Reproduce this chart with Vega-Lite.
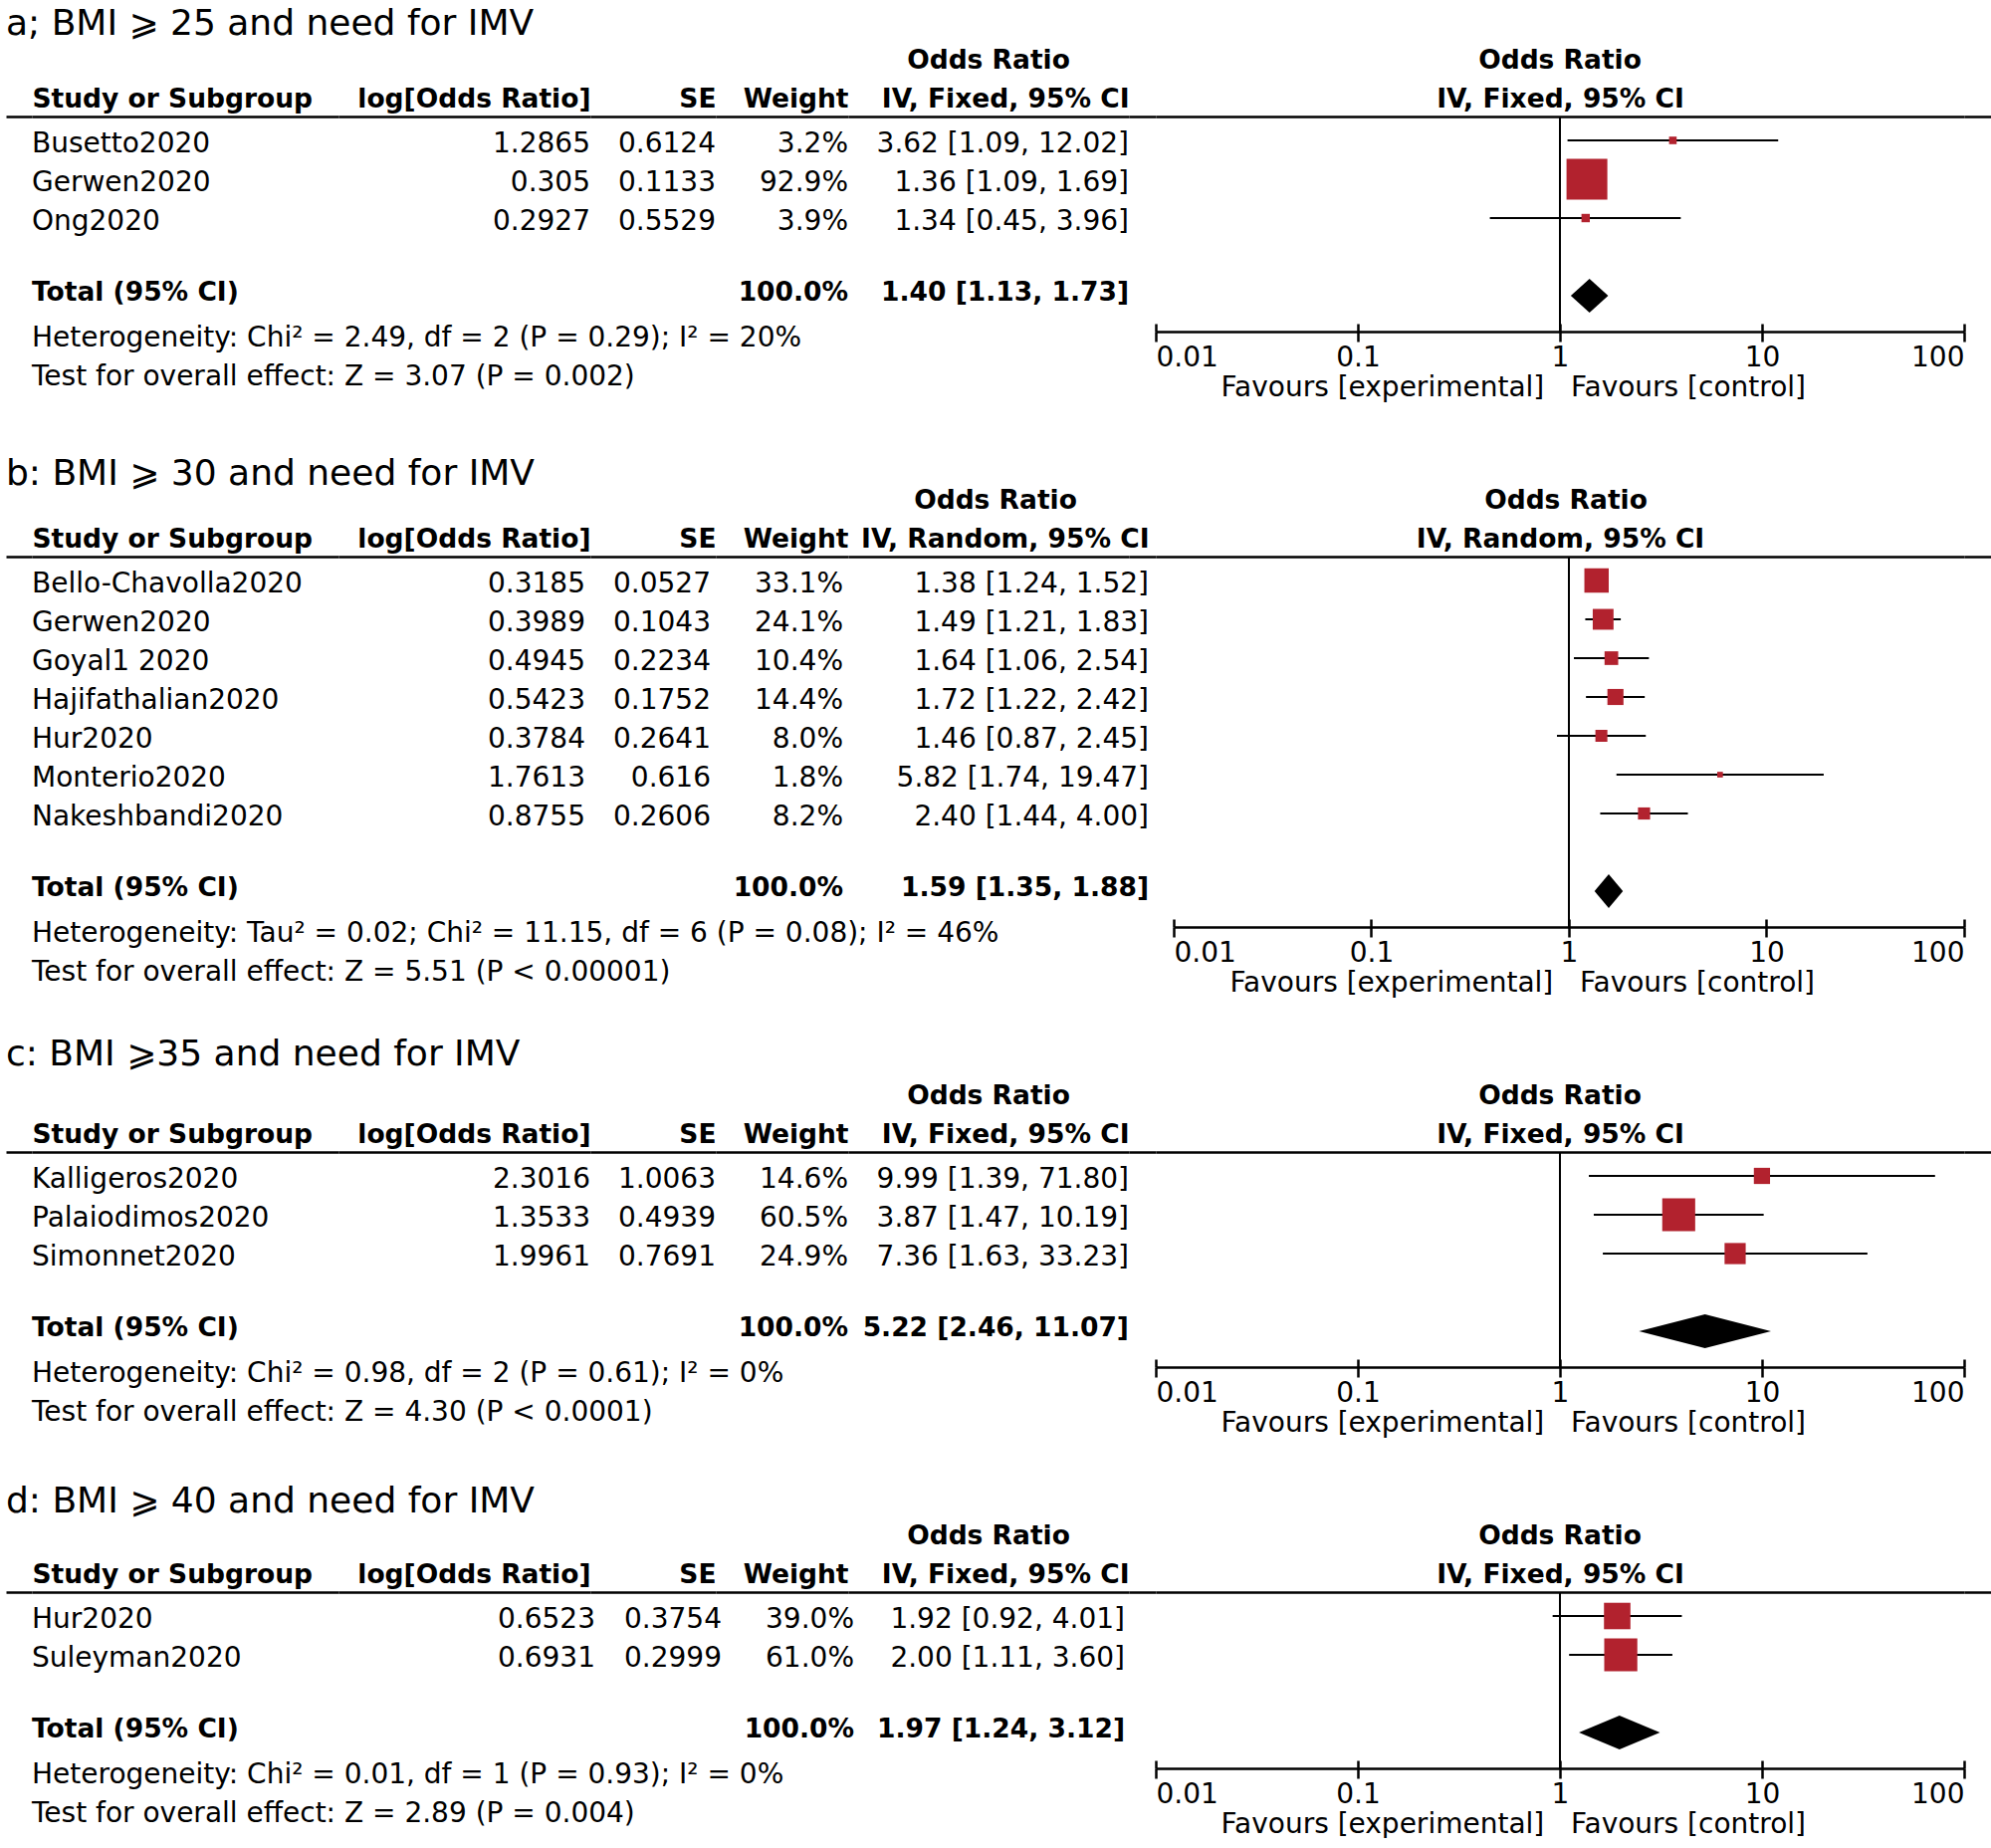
{
"$schema": "https://vega.github.io/schema/vega-lite/v6.json",
"background": "white",
"padding": {"left": 6, "top": 6, "right": 0, "bottom": 0},
"bounds": "flush",
"columns": 9,
"spacing": {"row": 160, "column": 0},
"align": "each",
"datasets": {
"a": [
{"kind":"study","study":"Busetto2020","logor":1.2865,"se":0.6124,"w":0.032,"or":3.62,"lo":1.09,"hi":12.02,"ci":"3.62 [1.09, 12.02]"},
{"kind":"study","study":"Gerwen2020","logor":0.305,"se":0.1133,"w":0.929,"or":1.36,"lo":1.09,"hi":1.69,"ci":"1.36 [1.09, 1.69]"},
{"kind":"study","study":"Ong2020","logor":0.2927,"se":0.5529,"w":0.039,"or":1.34,"lo":0.45,"hi":3.96,"ci":"1.34 [0.45, 3.96]"},
{"kind":"total","study":"Total (95% CI)","w":1,"or":1.40,"lo":1.13,"hi":1.73,"ci":"1.40 [1.13, 1.73]"},
{"kind":"note","study":"Heterogeneity: Chi² = 2.49, df = 2 (P = 0.29); I² = 20%"},
{"kind":"note","study":"Test for overall effect: Z = 3.07 (P = 0.002)"}
],
"b": [
{"kind":"study","study":"Bello-Chavolla2020","logor":0.3185,"se":0.0527,"w":0.331,"or":1.38,"lo":1.24,"hi":1.52,"ci":"1.38 [1.24, 1.52]"},
{"kind":"study","study":"Gerwen2020","logor":0.3989,"se":0.1043,"w":0.241,"or":1.49,"lo":1.21,"hi":1.83,"ci":"1.49 [1.21, 1.83]"},
{"kind":"study","study":"Goyal1 2020","logor":0.4945,"se":0.2234,"w":0.104,"or":1.64,"lo":1.06,"hi":2.54,"ci":"1.64 [1.06, 2.54]"},
{"kind":"study","study":"Hajifathalian2020","logor":0.5423,"se":0.1752,"w":0.144,"or":1.72,"lo":1.22,"hi":2.42,"ci":"1.72 [1.22, 2.42]"},
{"kind":"study","study":"Hur2020","logor":0.3784,"se":0.2641,"w":0.080,"or":1.46,"lo":0.87,"hi":2.45,"ci":"1.46 [0.87, 2.45]"},
{"kind":"study","study":"Monterio2020","logor":1.7613,"se":0.616,"w":0.018,"or":5.82,"lo":1.74,"hi":19.47,"ci":"5.82 [1.74, 19.47]"},
{"kind":"study","study":"Nakeshbandi2020","logor":0.8755,"se":0.2606,"w":0.082,"or":2.40,"lo":1.44,"hi":4.00,"ci":"2.40 [1.44, 4.00]"},
{"kind":"total","study":"Total (95% CI)","w":1,"or":1.59,"lo":1.35,"hi":1.88,"ci":"1.59 [1.35, 1.88]"},
{"kind":"note","study":"Heterogeneity: Tau² = 0.02; Chi² = 11.15, df = 6 (P = 0.08); I² = 46%"},
{"kind":"note","study":"Test for overall effect: Z = 5.51 (P < 0.00001)"}
],
"c": [
{"kind":"study","study":"Kalligeros2020","logor":2.3016,"se":1.0063,"w":0.146,"or":9.99,"lo":1.39,"hi":71.80,"ci":"9.99 [1.39, 71.80]"},
{"kind":"study","study":"Palaiodimos2020","logor":1.3533,"se":0.4939,"w":0.605,"or":3.87,"lo":1.47,"hi":10.19,"ci":"3.87 [1.47, 10.19]"},
{"kind":"study","study":"Simonnet2020","logor":1.9961,"se":0.7691,"w":0.249,"or":7.36,"lo":1.63,"hi":33.23,"ci":"7.36 [1.63, 33.23]"},
{"kind":"total","study":"Total (95% CI)","w":1,"or":5.22,"lo":2.46,"hi":11.07,"ci":"5.22 [2.46, 11.07]"},
{"kind":"note","study":"Heterogeneity: Chi² = 0.98, df = 2 (P = 0.61); I² = 0%"},
{"kind":"note","study":"Test for overall effect: Z = 4.30 (P < 0.0001)"}
],
"d": [
{"kind":"study","study":"Hur2020","logor":0.6523,"se":0.3754,"w":0.390,"or":1.92,"lo":0.92,"hi":4.01,"ci":"1.92 [0.92, 4.01]"},
{"kind":"study","study":"Suleyman2020","logor":0.6931,"se":0.2999,"w":0.610,"or":2.00,"lo":1.11,"hi":3.60,"ci":"2.00 [1.11, 3.60]"},
{"kind":"total","study":"Total (95% CI)","w":1,"or":1.97,"lo":1.24,"hi":3.12,"ci":"1.97 [1.24, 3.12]"},
{"kind":"note","study":"Heterogeneity: Chi² = 0.01, df = 1 (P = 0.93); I² = 0%"},
{"kind":"note","study":"Test for overall effect: Z = 2.89 (P = 0.004)"}
]
},
"concat": [
{"width":26,"height":282,"data":{"values":[{}]},
 "title":{"text":"a; BMI ⩾ 25 and need for IMV","anchor":"start","frame":"group","fontSize":36,"fontWeight":"normal","offset":74},
 "mark":{"type":"text"},
 "encoding":{"text":{"value":""},"x":{"datum":0,"type":"quantitative","scale":{"domain":[0,1]},"axis":{"orient":"top","domainColor":"black","domainWidth":2.5,"ticks":false,"labels":false,"grid":false,"title":null}}}},
{"width":308,"height":282,"data":{"name":"a"},
 "layer":[
  {"transform":[{"filter":"datum.kind !== 'total'"}],"mark":{"type":"text","align":"left"},
   "encoding":{"x":{"datum":0,"type":"quantitative","scale":{"domain":[0,1]},"axis":{"orient":"top","domainColor":"black","domainWidth":2.5,"ticks":false,"labels":false,"grid":false,"title":"Study or Subgroup","titleFontSize":26.5,"titleFontWeight":"bold","titleAnchor":"start","titlePadding":4}},
    "y":{"field":"study","type":"nominal","scale":{"type":"band","domain":["Busetto2020","Gerwen2020","Ong2020","","Total (95% CI)","Heterogeneity: Chi² = 2.49, df = 2 (P = 0.29); I² = 20%","Test for overall effect: Z = 3.07 (P = 0.002)"],"paddingInner":0,"paddingOuter":0.1154,"align":0.5},"axis":null},
    "text":{"field":"study","type":"nominal"}}},
  {"transform":[{"filter":"datum.kind === 'total'"}],"mark":{"type":"text","align":"left","fontWeight":"bold","fontSize":26.5,"dy":-3},
   "encoding":{"x":{"datum":0,"type":"quantitative","scale":{"domain":[0,1]}},
    "y":{"field":"study","type":"nominal","scale":{"type":"band","domain":["Busetto2020","Gerwen2020","Ong2020","","Total (95% CI)","Heterogeneity: Chi² = 2.49, df = 2 (P = 0.29); I² = 20%","Test for overall effect: Z = 3.07 (P = 0.002)"],"paddingInner":0,"paddingOuter":0.1154,"align":0.5},"axis":null},
    "text":{"field":"study","type":"nominal"}}}
 ]},
{"width":253,"height":282,"data":{"name":"a"},"transform":[{"filter":"datum.kind === 'study'"}],
 "mark":{"type":"text","align":"right"},
 "encoding":{"x":{"datum":1,"type":"quantitative","scale":{"domain":[0,1]},"axis":{"orient":"top","domainColor":"black","domainWidth":2.5,"ticks":false,"labels":false,"grid":false,"title":"log[Odds Ratio]","titleFontSize":26.5,"titleFontWeight":"bold","titleAnchor":"end","titlePadding":4}},
  "y":{"field":"study","type":"nominal","scale":{"type":"band","domain":["Busetto2020","Gerwen2020","Ong2020","","Total (95% CI)","Heterogeneity: Chi² = 2.49, df = 2 (P = 0.29); I² = 20%","Test for overall effect: Z = 3.07 (P = 0.002)"],"paddingInner":0,"paddingOuter":0.1154,"align":0.5},"axis":null},
  "text":{"field":"logor","type":"quantitative"}}},
{"width":126,"height":282,"data":{"name":"a"},"transform":[{"filter":"datum.kind === 'study'"}],
 "mark":{"type":"text","align":"right"},
 "encoding":{"x":{"datum":1,"type":"quantitative","scale":{"domain":[0,1]},"axis":{"orient":"top","domainColor":"black","domainWidth":2.5,"ticks":false,"labels":false,"grid":false,"title":"SE","titleFontSize":26.5,"titleFontWeight":"bold","titleAnchor":"end","titlePadding":4}},
  "y":{"field":"study","type":"nominal","scale":{"type":"band","domain":["Busetto2020","Gerwen2020","Ong2020","","Total (95% CI)","Heterogeneity: Chi² = 2.49, df = 2 (P = 0.29); I² = 20%","Test for overall effect: Z = 3.07 (P = 0.002)"],"paddingInner":0,"paddingOuter":0.1154,"align":0.5},"axis":null},
  "text":{"field":"se","type":"quantitative"}}},
{"width":133,"height":282,"data":{"name":"a"},
 "layer":[
  {"transform":[{"filter":"datum.kind === 'study'"}],"mark":{"type":"text","align":"right"},
   "encoding":{"x":{"datum":1,"type":"quantitative","scale":{"domain":[0,1]},"axis":{"orient":"top","domainColor":"black","domainWidth":2.5,"ticks":false,"labels":false,"grid":false,"title":"Weight","titleFontSize":26.5,"titleFontWeight":"bold","titleAnchor":"end","titlePadding":4}},
    "y":{"field":"study","type":"nominal","scale":{"type":"band","domain":["Busetto2020","Gerwen2020","Ong2020","","Total (95% CI)","Heterogeneity: Chi² = 2.49, df = 2 (P = 0.29); I² = 20%","Test for overall effect: Z = 3.07 (P = 0.002)"],"paddingInner":0,"paddingOuter":0.1154,"align":0.5},"axis":null},
    "text":{"field":"w","type":"quantitative","format":".1%"}}},
  {"transform":[{"filter":"datum.kind === 'total'"}],"mark":{"type":"text","align":"right","fontWeight":"bold","fontSize":26.5,"dy":-3},
   "encoding":{"x":{"datum":1,"type":"quantitative","scale":{"domain":[0,1]}},
    "y":{"field":"study","type":"nominal","scale":{"type":"band","domain":["Busetto2020","Gerwen2020","Ong2020","","Total (95% CI)","Heterogeneity: Chi² = 2.49, df = 2 (P = 0.29); I² = 20%","Test for overall effect: Z = 3.07 (P = 0.002)"],"paddingInner":0,"paddingOuter":0.1154,"align":0.5},"axis":null},
    "text":{"field":"w","type":"quantitative","format":".1%"}}}
 ]},
{"width":282,"height":282,"data":{"name":"a"},
 "title":{"text":"Odds Ratio","anchor":"middle","frame":"group","fontSize":26.5,"fontWeight":"bold","offset":12},
 "layer":[
  {"transform":[{"filter":"datum.kind === 'study'"}],"mark":{"type":"text","align":"right"},
   "encoding":{"x":{"datum":1,"type":"quantitative","scale":{"domain":[0,1]},"axis":{"orient":"top","domainColor":"black","domainWidth":2.5,"ticks":false,"labels":false,"grid":false,"title":"IV, Fixed, 95% CI","titleFontSize":26.5,"titleFontWeight":"bold","titleAnchor":"end","titlePadding":4}},
    "y":{"field":"study","type":"nominal","scale":{"type":"band","domain":["Busetto2020","Gerwen2020","Ong2020","","Total (95% CI)","Heterogeneity: Chi² = 2.49, df = 2 (P = 0.29); I² = 20%","Test for overall effect: Z = 3.07 (P = 0.002)"],"paddingInner":0,"paddingOuter":0.1154,"align":0.5},"axis":null},
    "text":{"field":"ci","type":"nominal"}}},
  {"transform":[{"filter":"datum.kind === 'total'"}],"mark":{"type":"text","align":"right","fontWeight":"bold","fontSize":26.5,"dy":-3},
   "encoding":{"x":{"datum":1,"type":"quantitative","scale":{"domain":[0,1]}},
    "y":{"field":"study","type":"nominal","scale":{"type":"band","domain":["Busetto2020","Gerwen2020","Ong2020","","Total (95% CI)","Heterogeneity: Chi² = 2.49, df = 2 (P = 0.29); I² = 20%","Test for overall effect: Z = 3.07 (P = 0.002)"],"paddingInner":0,"paddingOuter":0.1154,"align":0.5},"axis":null},
    "text":{"field":"ci","type":"nominal"}}}
 ]},
{"width":27,"height":282,"data":{"values":[{}]},"mark":{"type":"text"},
 "encoding":{"text":{"value":""},"x":{"datum":0,"type":"quantitative","scale":{"domain":[0,1]},"axis":{"orient":"top","domainColor":"black","domainWidth":2.5,"ticks":false,"labels":false,"grid":false,"title":null}}}},
{"width":812,"height":216,"data":{"name":"a"},
 "title":{"text":"Odds Ratio","anchor":"middle","frame":"group","fontSize":26.5,"fontWeight":"bold","offset":12},
 "resolve":{"axis":{"x":"independent"}},
 "layer":[
  {"data":{"values":[{}]},"mark":{"type":"rule","color":"black","strokeWidth":2},
   "encoding":{"x":{"datum":1,"type":"quantitative","scale":{"type":"log","domain":[0.01,100],"nice":false},"axis":{"orient":"top","domainColor":"black","domainWidth":2.5,"ticks":false,"labels":false,"grid":false,"title":"IV, Fixed, 95% CI","titleFontSize":26.5,"titleFontWeight":"bold","titleAnchor":"middle","titlePadding":4}}}},
  {"transform":[{"filter":"datum.kind === 'study'"}],"mark":{"type":"rule","color":"black","strokeWidth":2},
   "encoding":{"x":{"field":"lo","type":"quantitative","scale":{"type":"log","domain":[0.01,100],"nice":false},"axis":{"orient":"bottom","values":[0.01,0.1,1,10,100],"domain":false,"labels":false,"grid":false,"title":null,"tickSize":-8,"tickWidth":2.5,"tickColor":"black"}},"x2":{"field":"hi"},
    "y":{"field":"study","type":"nominal","scale":{"type":"band","domain":["Busetto2020","Gerwen2020","Ong2020","","Total (95% CI)"],"paddingInner":0,"paddingOuter":0.2692,"align":0.2143},"axis":null}}},
  {"transform":[{"filter":"datum.kind === 'study'"}],"mark":{"type":"square","color":"#B2222E","opacity":1},
   "encoding":{"x":{"field":"or","type":"quantitative","scale":{"type":"log","domain":[0.01,100],"nice":false},"axis":null},
    "y":{"field":"study","type":"nominal","scale":{"type":"band","domain":["Busetto2020","Gerwen2020","Ong2020","","Total (95% CI)"],"paddingInner":0,"paddingOuter":0.2692,"align":0.2143},"axis":null},
    "size":{"field":"w","type":"quantitative","scale":{"domain":[0,1],"range":[0,1810]},"legend":null}}},
  {"transform":[{"filter":"datum.kind === 'total'"}],"mark":{"type":"point","filled":true,"color":"black","opacity":1,"size":1156,"shape":"M-1.104,0L0,-1L1.104,0L0,1Z"},
   "encoding":{"x":{"field":"or","type":"quantitative","scale":{"type":"log","domain":[0.01,100],"nice":false},"axis":{"orient":"bottom","values":[0.01,0.1,1,10,100],"format":"~g","labelFlush":true,"labelFontSize":28,"labelPadding":2,"tickSize":10,"tickWidth":2.5,"tickColor":"black","domainColor":"black","domainWidth":2.5,"grid":false,"title":"Favours [experimental]\u00a0\u00a0\u00a0Favours [control]","titleFontSize":28,"titleFontWeight":"normal","titleAlign":"left","titleX":65,"titlePadding":2}},
    "y":{"field":"study","type":"nominal","scale":{"type":"band","domain":["Busetto2020","Gerwen2020","Ong2020","","Total (95% CI)"],"paddingInner":0,"paddingOuter":0.2692,"align":0.2143},"axis":null}}}
 ]},
{"width":27,"height":282,"data":{"values":[{}]},"mark":{"type":"text"},
 "encoding":{"text":{"value":""},"x":{"datum":0,"type":"quantitative","scale":{"domain":[0,1]},"axis":{"orient":"top","domainColor":"black","domainWidth":2.5,"ticks":false,"labels":false,"grid":false,"title":null}}}},

{"width":26,"height":438,"data":{"values":[{}]},
 "title":{"text":"b: BMI ⩾ 30 and need for IMV","anchor":"start","frame":"group","fontSize":36,"fontWeight":"normal","offset":64},
 "mark":{"type":"text"},
 "encoding":{"text":{"value":""},"x":{"datum":0,"type":"quantitative","scale":{"domain":[0,1]},"axis":{"orient":"top","domainColor":"black","domainWidth":2.5,"ticks":false,"labels":false,"grid":false,"title":null}}}},
{"width":308,"height":438,"data":{"name":"b"},
 "layer":[
  {"transform":[{"filter":"datum.kind !== 'total'"}],"mark":{"type":"text","align":"left"},
   "encoding":{"x":{"datum":0,"type":"quantitative","scale":{"domain":[0,1]},"axis":{"orient":"top","domainColor":"black","domainWidth":2.5,"ticks":false,"labels":false,"grid":false,"title":"Study or Subgroup","titleFontSize":26.5,"titleFontWeight":"bold","titleAnchor":"start","titlePadding":4}},
    "y":{"field":"study","type":"nominal","scale":{"type":"band","domain":["Bello-Chavolla2020","Gerwen2020","Goyal1 2020","Hajifathalian2020","Hur2020","Monterio2020","Nakeshbandi2020","","Total (95% CI)","Heterogeneity: Tau² = 0.02; Chi² = 11.15, df = 6 (P = 0.08); I² = 46%","Test for overall effect: Z = 5.51 (P < 0.00001)"],"paddingInner":0,"paddingOuter":0.1154,"align":0.5},"axis":null},
    "text":{"field":"study","type":"nominal"}}},
  {"transform":[{"filter":"datum.kind === 'total'"}],"mark":{"type":"text","align":"left","fontWeight":"bold","fontSize":26.5,"dy":-3},
   "encoding":{"x":{"datum":0,"type":"quantitative","scale":{"domain":[0,1]}},
    "y":{"field":"study","type":"nominal","scale":{"type":"band","domain":["Bello-Chavolla2020","Gerwen2020","Goyal1 2020","Hajifathalian2020","Hur2020","Monterio2020","Nakeshbandi2020","","Total (95% CI)","Heterogeneity: Tau² = 0.02; Chi² = 11.15, df = 6 (P = 0.08); I² = 46%","Test for overall effect: Z = 5.51 (P < 0.00001)"],"paddingInner":0,"paddingOuter":0.1154,"align":0.5},"axis":null},
    "text":{"field":"study","type":"nominal"}}}
 ]},
{"width":253,"height":438,"data":{"name":"b"},"transform":[{"filter":"datum.kind === 'study'"}],
 "mark":{"type":"text","align":"right","dx":-5},
 "encoding":{"x":{"datum":1,"type":"quantitative","scale":{"domain":[0,1]},"axis":{"orient":"top","domainColor":"black","domainWidth":2.5,"ticks":false,"labels":false,"grid":false,"title":"log[Odds Ratio]","titleFontSize":26.5,"titleFontWeight":"bold","titleAnchor":"end","titlePadding":4}},
  "y":{"field":"study","type":"nominal","scale":{"type":"band","domain":["Bello-Chavolla2020","Gerwen2020","Goyal1 2020","Hajifathalian2020","Hur2020","Monterio2020","Nakeshbandi2020","","Total (95% CI)","Heterogeneity: Tau² = 0.02; Chi² = 11.15, df = 6 (P = 0.08); I² = 46%","Test for overall effect: Z = 5.51 (P < 0.00001)"],"paddingInner":0,"paddingOuter":0.1154,"align":0.5},"axis":null},
  "text":{"field":"logor","type":"quantitative"}}},
{"width":126,"height":438,"data":{"name":"b"},"transform":[{"filter":"datum.kind === 'study'"}],
 "mark":{"type":"text","align":"right","dx":-5},
 "encoding":{"x":{"datum":1,"type":"quantitative","scale":{"domain":[0,1]},"axis":{"orient":"top","domainColor":"black","domainWidth":2.5,"ticks":false,"labels":false,"grid":false,"title":"SE","titleFontSize":26.5,"titleFontWeight":"bold","titleAnchor":"end","titlePadding":4}},
  "y":{"field":"study","type":"nominal","scale":{"type":"band","domain":["Bello-Chavolla2020","Gerwen2020","Goyal1 2020","Hajifathalian2020","Hur2020","Monterio2020","Nakeshbandi2020","","Total (95% CI)","Heterogeneity: Tau² = 0.02; Chi² = 11.15, df = 6 (P = 0.08); I² = 46%","Test for overall effect: Z = 5.51 (P < 0.00001)"],"paddingInner":0,"paddingOuter":0.1154,"align":0.5},"axis":null},
  "text":{"field":"se","type":"quantitative"}}},
{"width":133,"height":438,"data":{"name":"b"},
 "layer":[
  {"transform":[{"filter":"datum.kind === 'study'"}],"mark":{"type":"text","align":"right","dx":-5},
   "encoding":{"x":{"datum":1,"type":"quantitative","scale":{"domain":[0,1]},"axis":{"orient":"top","domainColor":"black","domainWidth":2.5,"ticks":false,"labels":false,"grid":false,"title":"Weight","titleFontSize":26.5,"titleFontWeight":"bold","titleAnchor":"end","titlePadding":4}},
    "y":{"field":"study","type":"nominal","scale":{"type":"band","domain":["Bello-Chavolla2020","Gerwen2020","Goyal1 2020","Hajifathalian2020","Hur2020","Monterio2020","Nakeshbandi2020","","Total (95% CI)","Heterogeneity: Tau² = 0.02; Chi² = 11.15, df = 6 (P = 0.08); I² = 46%","Test for overall effect: Z = 5.51 (P < 0.00001)"],"paddingInner":0,"paddingOuter":0.1154,"align":0.5},"axis":null},
    "text":{"field":"w","type":"quantitative","format":".1%"}}},
  {"transform":[{"filter":"datum.kind === 'total'"}],"mark":{"type":"text","align":"right","fontWeight":"bold","fontSize":26.5,"dy":-3,"dx":-5},
   "encoding":{"x":{"datum":1,"type":"quantitative","scale":{"domain":[0,1]}},
    "y":{"field":"study","type":"nominal","scale":{"type":"band","domain":["Bello-Chavolla2020","Gerwen2020","Goyal1 2020","Hajifathalian2020","Hur2020","Monterio2020","Nakeshbandi2020","","Total (95% CI)","Heterogeneity: Tau² = 0.02; Chi² = 11.15, df = 6 (P = 0.08); I² = 46%","Test for overall effect: Z = 5.51 (P < 0.00001)"],"paddingInner":0,"paddingOuter":0.1154,"align":0.5},"axis":null},
    "text":{"field":"w","type":"quantitative","format":".1%"}}}
 ]},
{"width":282,"height":438,"data":{"name":"b"},
 "title":{"text":"Odds Ratio","anchor":"middle","frame":"group","fontSize":26.5,"fontWeight":"bold","offset":12,"dx":7},
 "layer":[
  {"transform":[{"filter":"datum.kind === 'study'"}],"mark":{"type":"text","align":"right","dx":20},
   "encoding":{"x":{"datum":1,"type":"quantitative","scale":{"domain":[0,1]},"axis":{"orient":"top","domainColor":"black","domainWidth":2.5,"ticks":false,"labels":false,"grid":false,"title":"IV, Random, 95% CI","titleFontSize":26.5,"titleFontWeight":"bold","titleAnchor":"end","titleAlign":"right","titleX":302,"titlePadding":4}},
    "y":{"field":"study","type":"nominal","scale":{"type":"band","domain":["Bello-Chavolla2020","Gerwen2020","Goyal1 2020","Hajifathalian2020","Hur2020","Monterio2020","Nakeshbandi2020","","Total (95% CI)","Heterogeneity: Tau² = 0.02; Chi² = 11.15, df = 6 (P = 0.08); I² = 46%","Test for overall effect: Z = 5.51 (P < 0.00001)"],"paddingInner":0,"paddingOuter":0.1154,"align":0.5},"axis":null},
    "text":{"field":"ci","type":"nominal"}}},
  {"transform":[{"filter":"datum.kind === 'total'"}],"mark":{"type":"text","align":"right","fontWeight":"bold","fontSize":26.5,"dy":-3,"dx":20},
   "encoding":{"x":{"datum":1,"type":"quantitative","scale":{"domain":[0,1]}},
    "y":{"field":"study","type":"nominal","scale":{"type":"band","domain":["Bello-Chavolla2020","Gerwen2020","Goyal1 2020","Hajifathalian2020","Hur2020","Monterio2020","Nakeshbandi2020","","Total (95% CI)","Heterogeneity: Tau² = 0.02; Chi² = 11.15, df = 6 (P = 0.08); I² = 46%","Test for overall effect: Z = 5.51 (P < 0.00001)"],"paddingInner":0,"paddingOuter":0.1154,"align":0.5},"axis":null},
    "text":{"field":"ci","type":"nominal"}}}
 ]},
{"width":27,"height":438,"data":{"values":[{}]},"mark":{"type":"text"},
 "encoding":{"text":{"value":""},"x":{"datum":0,"type":"quantitative","scale":{"domain":[0,1]},"axis":{"orient":"top","domainColor":"black","domainWidth":2.5,"ticks":false,"labels":false,"grid":false,"title":null}}}},
{"width":812,"height":372,"data":{"name":"b"},
 "title":{"text":"Odds Ratio","anchor":"middle","frame":"group","fontSize":26.5,"fontWeight":"bold","offset":12,"dx":6},
 "resolve":{"axis":{"x":"independent"},"scale":{"x":"independent"}},
 "layer":[
  {"data":{"values":[{}]},"mark":{"type":"text"},
   "encoding":{"text":{"value":""},"x":{"datum":1,"type":"quantitative","scale":{"type":"log","domain":[0.01,100],"nice":false},"axis":{"orient":"top","domainColor":"black","domainWidth":2.5,"ticks":false,"labels":false,"grid":false,"title":"IV, Random, 95% CI","titleFontSize":26.5,"titleFontWeight":"bold","titleAnchor":"middle","titlePadding":4}}}},
  {"data":{"values":[{}]},"mark":{"type":"rule","color":"black","strokeWidth":2},
   "encoding":{"x":{"datum":1,"type":"quantitative","scale":{"type":"log","domain":[0.01,100],"range":[18,812],"nice":false},"axis":null}}},
  {"transform":[{"filter":"datum.kind === 'study'"}],"mark":{"type":"rule","color":"black","strokeWidth":2},
   "encoding":{"x":{"field":"lo","type":"quantitative","scale":{"type":"log","domain":[0.01,100],"range":[18,812],"nice":false},"axis":{"orient":"bottom","values":[0.01,0.1,1,10,100],"domain":false,"labels":false,"grid":false,"title":null,"tickSize":-8,"tickWidth":2.5,"tickColor":"black"}},"x2":{"field":"hi"},
    "y":{"field":"study","type":"nominal","scale":{"type":"band","domain":["Bello-Chavolla2020","Gerwen2020","Goyal1 2020","Hajifathalian2020","Hur2020","Monterio2020","Nakeshbandi2020","","Total (95% CI)"],"paddingInner":0,"paddingOuter":0.2692,"align":0.2143},"axis":null}}},
  {"transform":[{"filter":"datum.kind === 'study'"}],"mark":{"type":"square","color":"#B2222E","opacity":1},
   "encoding":{"x":{"field":"or","type":"quantitative","scale":{"type":"log","domain":[0.01,100],"range":[18,812],"nice":false},"axis":null},
    "y":{"field":"study","type":"nominal","scale":{"type":"band","domain":["Bello-Chavolla2020","Gerwen2020","Goyal1 2020","Hajifathalian2020","Hur2020","Monterio2020","Nakeshbandi2020","","Total (95% CI)"],"paddingInner":0,"paddingOuter":0.2692,"align":0.2143},"axis":null},
    "size":{"field":"w","type":"quantitative","scale":{"domain":[0,1],"range":[0,980]},"legend":null}}},
  {"transform":[{"filter":"datum.kind === 'total'"}],"mark":{"type":"point","filled":true,"color":"black","opacity":1,"size":1156,"shape":"M-0.840,0L0,-1L0.840,0L0,1Z"},
   "encoding":{"x":{"field":"or","type":"quantitative","scale":{"type":"log","domain":[0.01,100],"range":[18,812],"nice":false},"axis":{"orient":"bottom","values":[0.01,0.1,1,10,100],"format":"~g","labelFlush":true,"labelFontSize":28,"labelPadding":2,"tickSize":10,"tickWidth":2.5,"tickColor":"black","domainColor":"black","domainWidth":2.5,"grid":false,"title":"Favours [experimental]\u00a0\u00a0\u00a0Favours [control]","titleFontSize":28,"titleFontWeight":"normal","titleAlign":"left","titleX":74,"titlePadding":2}},
    "y":{"field":"study","type":"nominal","scale":{"type":"band","domain":["Bello-Chavolla2020","Gerwen2020","Goyal1 2020","Hajifathalian2020","Hur2020","Monterio2020","Nakeshbandi2020","","Total (95% CI)"],"paddingInner":0,"paddingOuter":0.2692,"align":0.2143},"axis":null}}}
 ]},
{"width":27,"height":438,"data":{"values":[{}]},"mark":{"type":"text"},
 "encoding":{"text":{"value":""},"x":{"datum":0,"type":"quantitative","scale":{"domain":[0,1]},"axis":{"orient":"top","domainColor":"black","domainWidth":2.5,"ticks":false,"labels":false,"grid":false,"title":null}}}},

{"width":26,"height":282,"data":{"values":[{}]},
 "title":{"text":"c: BMI ⩾35 and need for IMV","anchor":"start","frame":"group","fontSize":36,"fontWeight":"normal","offset":79},
 "mark":{"type":"text"},
 "encoding":{"text":{"value":""},"x":{"datum":0,"type":"quantitative","scale":{"domain":[0,1]},"axis":{"orient":"top","domainColor":"black","domainWidth":2.5,"ticks":false,"labels":false,"grid":false,"title":null}}}},
{"width":308,"height":282,"data":{"name":"c"},
 "layer":[
  {"transform":[{"filter":"datum.kind !== 'total'"}],"mark":{"type":"text","align":"left"},
   "encoding":{"x":{"datum":0,"type":"quantitative","scale":{"domain":[0,1]},"axis":{"orient":"top","domainColor":"black","domainWidth":2.5,"ticks":false,"labels":false,"grid":false,"title":"Study or Subgroup","titleFontSize":26.5,"titleFontWeight":"bold","titleAnchor":"start","titlePadding":4}},
    "y":{"field":"study","type":"nominal","scale":{"type":"band","domain":["Kalligeros2020","Palaiodimos2020","Simonnet2020","","Total (95% CI)","Heterogeneity: Chi² = 0.98, df = 2 (P = 0.61); I² = 0%","Test for overall effect: Z = 4.30 (P < 0.0001)"],"paddingInner":0,"paddingOuter":0.1154,"align":0.5},"axis":null},
    "text":{"field":"study","type":"nominal"}}},
  {"transform":[{"filter":"datum.kind === 'total'"}],"mark":{"type":"text","align":"left","fontWeight":"bold","fontSize":26.5,"dy":-3},
   "encoding":{"x":{"datum":0,"type":"quantitative","scale":{"domain":[0,1]}},
    "y":{"field":"study","type":"nominal","scale":{"type":"band","domain":["Kalligeros2020","Palaiodimos2020","Simonnet2020","","Total (95% CI)","Heterogeneity: Chi² = 0.98, df = 2 (P = 0.61); I² = 0%","Test for overall effect: Z = 4.30 (P < 0.0001)"],"paddingInner":0,"paddingOuter":0.1154,"align":0.5},"axis":null},
    "text":{"field":"study","type":"nominal"}}}
 ]},
{"width":253,"height":282,"data":{"name":"c"},"transform":[{"filter":"datum.kind === 'study'"}],
 "mark":{"type":"text","align":"right"},
 "encoding":{"x":{"datum":1,"type":"quantitative","scale":{"domain":[0,1]},"axis":{"orient":"top","domainColor":"black","domainWidth":2.5,"ticks":false,"labels":false,"grid":false,"title":"log[Odds Ratio]","titleFontSize":26.5,"titleFontWeight":"bold","titleAnchor":"end","titlePadding":4}},
  "y":{"field":"study","type":"nominal","scale":{"type":"band","domain":["Kalligeros2020","Palaiodimos2020","Simonnet2020","","Total (95% CI)","Heterogeneity: Chi² = 0.98, df = 2 (P = 0.61); I² = 0%","Test for overall effect: Z = 4.30 (P < 0.0001)"],"paddingInner":0,"paddingOuter":0.1154,"align":0.5},"axis":null},
  "text":{"field":"logor","type":"quantitative"}}},
{"width":126,"height":282,"data":{"name":"c"},"transform":[{"filter":"datum.kind === 'study'"}],
 "mark":{"type":"text","align":"right"},
 "encoding":{"x":{"datum":1,"type":"quantitative","scale":{"domain":[0,1]},"axis":{"orient":"top","domainColor":"black","domainWidth":2.5,"ticks":false,"labels":false,"grid":false,"title":"SE","titleFontSize":26.5,"titleFontWeight":"bold","titleAnchor":"end","titlePadding":4}},
  "y":{"field":"study","type":"nominal","scale":{"type":"band","domain":["Kalligeros2020","Palaiodimos2020","Simonnet2020","","Total (95% CI)","Heterogeneity: Chi² = 0.98, df = 2 (P = 0.61); I² = 0%","Test for overall effect: Z = 4.30 (P < 0.0001)"],"paddingInner":0,"paddingOuter":0.1154,"align":0.5},"axis":null},
  "text":{"field":"se","type":"quantitative"}}},
{"width":133,"height":282,"data":{"name":"c"},
 "layer":[
  {"transform":[{"filter":"datum.kind === 'study'"}],"mark":{"type":"text","align":"right"},
   "encoding":{"x":{"datum":1,"type":"quantitative","scale":{"domain":[0,1]},"axis":{"orient":"top","domainColor":"black","domainWidth":2.5,"ticks":false,"labels":false,"grid":false,"title":"Weight","titleFontSize":26.5,"titleFontWeight":"bold","titleAnchor":"end","titlePadding":4}},
    "y":{"field":"study","type":"nominal","scale":{"type":"band","domain":["Kalligeros2020","Palaiodimos2020","Simonnet2020","","Total (95% CI)","Heterogeneity: Chi² = 0.98, df = 2 (P = 0.61); I² = 0%","Test for overall effect: Z = 4.30 (P < 0.0001)"],"paddingInner":0,"paddingOuter":0.1154,"align":0.5},"axis":null},
    "text":{"field":"w","type":"quantitative","format":".1%"}}},
  {"transform":[{"filter":"datum.kind === 'total'"}],"mark":{"type":"text","align":"right","fontWeight":"bold","fontSize":26.5,"dy":-3},
   "encoding":{"x":{"datum":1,"type":"quantitative","scale":{"domain":[0,1]}},
    "y":{"field":"study","type":"nominal","scale":{"type":"band","domain":["Kalligeros2020","Palaiodimos2020","Simonnet2020","","Total (95% CI)","Heterogeneity: Chi² = 0.98, df = 2 (P = 0.61); I² = 0%","Test for overall effect: Z = 4.30 (P < 0.0001)"],"paddingInner":0,"paddingOuter":0.1154,"align":0.5},"axis":null},
    "text":{"field":"w","type":"quantitative","format":".1%"}}}
 ]},
{"width":282,"height":282,"data":{"name":"c"},
 "title":{"text":"Odds Ratio","anchor":"middle","frame":"group","fontSize":26.5,"fontWeight":"bold","offset":12},
 "layer":[
  {"transform":[{"filter":"datum.kind === 'study'"}],"mark":{"type":"text","align":"right"},
   "encoding":{"x":{"datum":1,"type":"quantitative","scale":{"domain":[0,1]},"axis":{"orient":"top","domainColor":"black","domainWidth":2.5,"ticks":false,"labels":false,"grid":false,"title":"IV, Fixed, 95% CI","titleFontSize":26.5,"titleFontWeight":"bold","titleAnchor":"end","titlePadding":4}},
    "y":{"field":"study","type":"nominal","scale":{"type":"band","domain":["Kalligeros2020","Palaiodimos2020","Simonnet2020","","Total (95% CI)","Heterogeneity: Chi² = 0.98, df = 2 (P = 0.61); I² = 0%","Test for overall effect: Z = 4.30 (P < 0.0001)"],"paddingInner":0,"paddingOuter":0.1154,"align":0.5},"axis":null},
    "text":{"field":"ci","type":"nominal"}}},
  {"transform":[{"filter":"datum.kind === 'total'"}],"mark":{"type":"text","align":"right","fontWeight":"bold","fontSize":26.5,"dy":-3},
   "encoding":{"x":{"datum":1,"type":"quantitative","scale":{"domain":[0,1]}},
    "y":{"field":"study","type":"nominal","scale":{"type":"band","domain":["Kalligeros2020","Palaiodimos2020","Simonnet2020","","Total (95% CI)","Heterogeneity: Chi² = 0.98, df = 2 (P = 0.61); I² = 0%","Test for overall effect: Z = 4.30 (P < 0.0001)"],"paddingInner":0,"paddingOuter":0.1154,"align":0.5},"axis":null},
    "text":{"field":"ci","type":"nominal"}}}
 ]},
{"width":27,"height":282,"data":{"values":[{}]},"mark":{"type":"text"},
 "encoding":{"text":{"value":""},"x":{"datum":0,"type":"quantitative","scale":{"domain":[0,1]},"axis":{"orient":"top","domainColor":"black","domainWidth":2.5,"ticks":false,"labels":false,"grid":false,"title":null}}}},
{"width":812,"height":216,"data":{"name":"c"},
 "title":{"text":"Odds Ratio","anchor":"middle","frame":"group","fontSize":26.5,"fontWeight":"bold","offset":12},
 "resolve":{"axis":{"x":"independent"}},
 "layer":[
  {"data":{"values":[{}]},"mark":{"type":"rule","color":"black","strokeWidth":2},
   "encoding":{"x":{"datum":1,"type":"quantitative","scale":{"type":"log","domain":[0.01,100],"nice":false},"axis":{"orient":"top","domainColor":"black","domainWidth":2.5,"ticks":false,"labels":false,"grid":false,"title":"IV, Fixed, 95% CI","titleFontSize":26.5,"titleFontWeight":"bold","titleAnchor":"middle","titlePadding":4}}}},
  {"transform":[{"filter":"datum.kind === 'study'"}],"mark":{"type":"rule","color":"black","strokeWidth":2},
   "encoding":{"x":{"field":"lo","type":"quantitative","scale":{"type":"log","domain":[0.01,100],"nice":false},"axis":{"orient":"bottom","values":[0.01,0.1,1,10,100],"domain":false,"labels":false,"grid":false,"title":null,"tickSize":-8,"tickWidth":2.5,"tickColor":"black"}},"x2":{"field":"hi"},
    "y":{"field":"study","type":"nominal","scale":{"type":"band","domain":["Kalligeros2020","Palaiodimos2020","Simonnet2020","","Total (95% CI)"],"paddingInner":0,"paddingOuter":0.2692,"align":0.2143},"axis":null}}},
  {"transform":[{"filter":"datum.kind === 'study'"}],"mark":{"type":"square","color":"#B2222E","opacity":1},
   "encoding":{"x":{"field":"or","type":"quantitative","scale":{"type":"log","domain":[0.01,100],"nice":false},"axis":null},
    "y":{"field":"study","type":"nominal","scale":{"type":"band","domain":["Kalligeros2020","Palaiodimos2020","Simonnet2020","","Total (95% CI)"],"paddingInner":0,"paddingOuter":0.2692,"align":0.2143},"axis":null},
    "size":{"field":"w","type":"quantitative","scale":{"domain":[0,1],"range":[0,1296]},"legend":null}}},
  {"transform":[{"filter":"datum.kind === 'total'"}],"mark":{"type":"point","filled":true,"color":"black","opacity":1,"size":1156,"shape":"M-3.900,0L0,-1L3.900,0L0,1Z"},
   "encoding":{"x":{"field":"or","type":"quantitative","scale":{"type":"log","domain":[0.01,100],"nice":false},"axis":{"orient":"bottom","values":[0.01,0.1,1,10,100],"format":"~g","labelFlush":true,"labelFontSize":28,"labelPadding":2,"tickSize":10,"tickWidth":2.5,"tickColor":"black","domainColor":"black","domainWidth":2.5,"grid":false,"title":"Favours [experimental]\u00a0\u00a0\u00a0Favours [control]","titleFontSize":28,"titleFontWeight":"normal","titleAlign":"left","titleX":65,"titlePadding":2}},
    "y":{"field":"study","type":"nominal","scale":{"type":"band","domain":["Kalligeros2020","Palaiodimos2020","Simonnet2020","","Total (95% CI)"],"paddingInner":0,"paddingOuter":0.2692,"align":0.2143},"axis":null}}}
 ]},
{"width":27,"height":282,"data":{"values":[{}]},"mark":{"type":"text"},
 "encoding":{"text":{"value":""},"x":{"datum":0,"type":"quantitative","scale":{"domain":[0,1]},"axis":{"orient":"top","domainColor":"black","domainWidth":2.5,"ticks":false,"labels":false,"grid":false,"title":null}}}},

{"width":26,"height":243,"data":{"values":[{}]},
 "title":{"text":"d: BMI ⩾ 40 and need for IMV","anchor":"start","frame":"group","fontSize":36,"fontWeight":"normal","offset":72},
 "mark":{"type":"text"},
 "encoding":{"text":{"value":""},"x":{"datum":0,"type":"quantitative","scale":{"domain":[0,1]},"axis":{"orient":"top","domainColor":"black","domainWidth":2.5,"ticks":false,"labels":false,"grid":false,"title":null}}}},
{"width":308,"height":243,"data":{"name":"d"},
 "layer":[
  {"transform":[{"filter":"datum.kind !== 'total'"}],"mark":{"type":"text","align":"left"},
   "encoding":{"x":{"datum":0,"type":"quantitative","scale":{"domain":[0,1]},"axis":{"orient":"top","domainColor":"black","domainWidth":2.5,"ticks":false,"labels":false,"grid":false,"title":"Study or Subgroup","titleFontSize":26.5,"titleFontWeight":"bold","titleAnchor":"start","titlePadding":4}},
    "y":{"field":"study","type":"nominal","scale":{"type":"band","domain":["Hur2020","Suleyman2020","","Total (95% CI)","Heterogeneity: Chi² = 0.01, df = 1 (P = 0.93); I² = 0%","Test for overall effect: Z = 2.89 (P = 0.004)"],"paddingInner":0,"paddingOuter":0.1154,"align":0.5},"axis":null},
    "text":{"field":"study","type":"nominal"}}},
  {"transform":[{"filter":"datum.kind === 'total'"}],"mark":{"type":"text","align":"left","fontWeight":"bold","fontSize":26.5,"dy":-3},
   "encoding":{"x":{"datum":0,"type":"quantitative","scale":{"domain":[0,1]}},
    "y":{"field":"study","type":"nominal","scale":{"type":"band","domain":["Hur2020","Suleyman2020","","Total (95% CI)","Heterogeneity: Chi² = 0.01, df = 1 (P = 0.93); I² = 0%","Test for overall effect: Z = 2.89 (P = 0.004)"],"paddingInner":0,"paddingOuter":0.1154,"align":0.5},"axis":null},
    "text":{"field":"study","type":"nominal"}}}
 ]},
{"width":253,"height":243,"data":{"name":"d"},"transform":[{"filter":"datum.kind === 'study'"}],
 "mark":{"type":"text","align":"right","dx":5},
 "encoding":{"x":{"datum":1,"type":"quantitative","scale":{"domain":[0,1]},"axis":{"orient":"top","domainColor":"black","domainWidth":2.5,"ticks":false,"labels":false,"grid":false,"title":"log[Odds Ratio]","titleFontSize":26.5,"titleFontWeight":"bold","titleAnchor":"end","titlePadding":4}},
  "y":{"field":"study","type":"nominal","scale":{"type":"band","domain":["Hur2020","Suleyman2020","","Total (95% CI)","Heterogeneity: Chi² = 0.01, df = 1 (P = 0.93); I² = 0%","Test for overall effect: Z = 2.89 (P = 0.004)"],"paddingInner":0,"paddingOuter":0.1154,"align":0.5},"axis":null},
  "text":{"field":"logor","type":"quantitative"}}},
{"width":126,"height":243,"data":{"name":"d"},"transform":[{"filter":"datum.kind === 'study'"}],
 "mark":{"type":"text","align":"right","dx":6},
 "encoding":{"x":{"datum":1,"type":"quantitative","scale":{"domain":[0,1]},"axis":{"orient":"top","domainColor":"black","domainWidth":2.5,"ticks":false,"labels":false,"grid":false,"title":"SE","titleFontSize":26.5,"titleFontWeight":"bold","titleAnchor":"end","titlePadding":4}},
  "y":{"field":"study","type":"nominal","scale":{"type":"band","domain":["Hur2020","Suleyman2020","","Total (95% CI)","Heterogeneity: Chi² = 0.01, df = 1 (P = 0.93); I² = 0%","Test for overall effect: Z = 2.89 (P = 0.004)"],"paddingInner":0,"paddingOuter":0.1154,"align":0.5},"axis":null},
  "text":{"field":"se","type":"quantitative"}}},
{"width":133,"height":243,"data":{"name":"d"},
 "layer":[
  {"transform":[{"filter":"datum.kind === 'study'"}],"mark":{"type":"text","align":"right","dx":6},
   "encoding":{"x":{"datum":1,"type":"quantitative","scale":{"domain":[0,1]},"axis":{"orient":"top","domainColor":"black","domainWidth":2.5,"ticks":false,"labels":false,"grid":false,"title":"Weight","titleFontSize":26.5,"titleFontWeight":"bold","titleAnchor":"end","titlePadding":4}},
    "y":{"field":"study","type":"nominal","scale":{"type":"band","domain":["Hur2020","Suleyman2020","","Total (95% CI)","Heterogeneity: Chi² = 0.01, df = 1 (P = 0.93); I² = 0%","Test for overall effect: Z = 2.89 (P = 0.004)"],"paddingInner":0,"paddingOuter":0.1154,"align":0.5},"axis":null},
    "text":{"field":"w","type":"quantitative","format":".1%"}}},
  {"transform":[{"filter":"datum.kind === 'total'"}],"mark":{"type":"text","align":"right","fontWeight":"bold","fontSize":26.5,"dy":-3,"dx":6},
   "encoding":{"x":{"datum":1,"type":"quantitative","scale":{"domain":[0,1]}},
    "y":{"field":"study","type":"nominal","scale":{"type":"band","domain":["Hur2020","Suleyman2020","","Total (95% CI)","Heterogeneity: Chi² = 0.01, df = 1 (P = 0.93); I² = 0%","Test for overall effect: Z = 2.89 (P = 0.004)"],"paddingInner":0,"paddingOuter":0.1154,"align":0.5},"axis":null},
    "text":{"field":"w","type":"quantitative","format":".1%"}}}
 ]},
{"width":282,"height":243,"data":{"name":"d"},
 "title":{"text":"Odds Ratio","anchor":"middle","frame":"group","fontSize":26.5,"fontWeight":"bold","offset":12},
 "layer":[
  {"transform":[{"filter":"datum.kind === 'study'"}],"mark":{"type":"text","align":"right","dx":-4},
   "encoding":{"x":{"datum":1,"type":"quantitative","scale":{"domain":[0,1]},"axis":{"orient":"top","domainColor":"black","domainWidth":2.5,"ticks":false,"labels":false,"grid":false,"title":"IV, Fixed, 95% CI","titleFontSize":26.5,"titleFontWeight":"bold","titleAnchor":"end","titlePadding":4}},
    "y":{"field":"study","type":"nominal","scale":{"type":"band","domain":["Hur2020","Suleyman2020","","Total (95% CI)","Heterogeneity: Chi² = 0.01, df = 1 (P = 0.93); I² = 0%","Test for overall effect: Z = 2.89 (P = 0.004)"],"paddingInner":0,"paddingOuter":0.1154,"align":0.5},"axis":null},
    "text":{"field":"ci","type":"nominal"}}},
  {"transform":[{"filter":"datum.kind === 'total'"}],"mark":{"type":"text","align":"right","fontWeight":"bold","fontSize":26.5,"dy":-3,"dx":-4},
   "encoding":{"x":{"datum":1,"type":"quantitative","scale":{"domain":[0,1]}},
    "y":{"field":"study","type":"nominal","scale":{"type":"band","domain":["Hur2020","Suleyman2020","","Total (95% CI)","Heterogeneity: Chi² = 0.01, df = 1 (P = 0.93); I² = 0%","Test for overall effect: Z = 2.89 (P = 0.004)"],"paddingInner":0,"paddingOuter":0.1154,"align":0.5},"axis":null},
    "text":{"field":"ci","type":"nominal"}}}
 ]},
{"width":27,"height":243,"data":{"values":[{}]},"mark":{"type":"text"},
 "encoding":{"text":{"value":""},"x":{"datum":0,"type":"quantitative","scale":{"domain":[0,1]},"axis":{"orient":"top","domainColor":"black","domainWidth":2.5,"ticks":false,"labels":false,"grid":false,"title":null}}}},
{"width":812,"height":177,"data":{"name":"d"},
 "title":{"text":"Odds Ratio","anchor":"middle","frame":"group","fontSize":26.5,"fontWeight":"bold","offset":12},
 "resolve":{"axis":{"x":"independent"}},
 "layer":[
  {"data":{"values":[{}]},"mark":{"type":"rule","color":"black","strokeWidth":2},
   "encoding":{"x":{"datum":1,"type":"quantitative","scale":{"type":"log","domain":[0.01,100],"nice":false},"axis":{"orient":"top","domainColor":"black","domainWidth":2.5,"ticks":false,"labels":false,"grid":false,"title":"IV, Fixed, 95% CI","titleFontSize":26.5,"titleFontWeight":"bold","titleAnchor":"middle","titlePadding":4}}}},
  {"transform":[{"filter":"datum.kind === 'study'"}],"mark":{"type":"rule","color":"black","strokeWidth":2},
   "encoding":{"x":{"field":"lo","type":"quantitative","scale":{"type":"log","domain":[0.01,100],"nice":false},"axis":{"orient":"bottom","values":[0.01,0.1,1,10,100],"domain":false,"labels":false,"grid":false,"title":null,"tickSize":-8,"tickWidth":2.5,"tickColor":"black"}},"x2":{"field":"hi"},
    "y":{"field":"study","type":"nominal","scale":{"type":"band","domain":["Hur2020","Suleyman2020","","Total (95% CI)"],"paddingInner":0,"paddingOuter":0.2692,"align":0.2143},"axis":null}}},
  {"transform":[{"filter":"datum.kind === 'study'"}],"mark":{"type":"square","color":"#B2222E","opacity":1},
   "encoding":{"x":{"field":"or","type":"quantitative","scale":{"type":"log","domain":[0.01,100],"nice":false},"axis":null},
    "y":{"field":"study","type":"nominal","scale":{"type":"band","domain":["Hur2020","Suleyman2020","","Total (95% CI)"],"paddingInner":0,"paddingOuter":0.2692,"align":0.2143},"axis":null},
    "size":{"field":"w","type":"quantitative","scale":{"domain":[0,1],"range":[0,1300]},"legend":null}}},
  {"transform":[{"filter":"datum.kind === 'total'"}],"mark":{"type":"point","filled":true,"color":"black","opacity":1,"size":1156,"shape":"M-2.393,0L0,-1L2.393,0L0,1Z"},
   "encoding":{"x":{"field":"or","type":"quantitative","scale":{"type":"log","domain":[0.01,100],"nice":false},"axis":{"orient":"bottom","values":[0.01,0.1,1,10,100],"format":"~g","labelFlush":true,"labelFontSize":28,"labelPadding":2,"tickSize":10,"tickWidth":2.5,"tickColor":"black","domainColor":"black","domainWidth":2.5,"grid":false,"title":"Favours [experimental]\u00a0\u00a0\u00a0Favours [control]","titleFontSize":28,"titleFontWeight":"normal","titleAlign":"left","titleX":65,"titlePadding":2}},
    "y":{"field":"study","type":"nominal","scale":{"type":"band","domain":["Hur2020","Suleyman2020","","Total (95% CI)"],"paddingInner":0,"paddingOuter":0.2692,"align":0.2143},"axis":null}}}
 ]},
{"width":27,"height":243,"data":{"values":[{}]},"mark":{"type":"text"},
 "encoding":{"text":{"value":""},"x":{"datum":0,"type":"quantitative","scale":{"domain":[0,1]},"axis":{"orient":"top","domainColor":"black","domainWidth":2.5,"ticks":false,"labels":false,"grid":false,"title":null}}}}
],
"config": {
 "view": {"stroke": null},
 "font": "DejaVu Sans",
 "text": {"font": "DejaVu Sans", "fontSize": 28, "color": "black", "baseline": "middle", "dy": 4},
 "title": {"font": "DejaVu Sans", "color": "black"},
 "axis": {"labelFont": "DejaVu Sans", "titleFont": "DejaVu Sans", "labelColor": "black", "titleColor": "black"}
}
}
